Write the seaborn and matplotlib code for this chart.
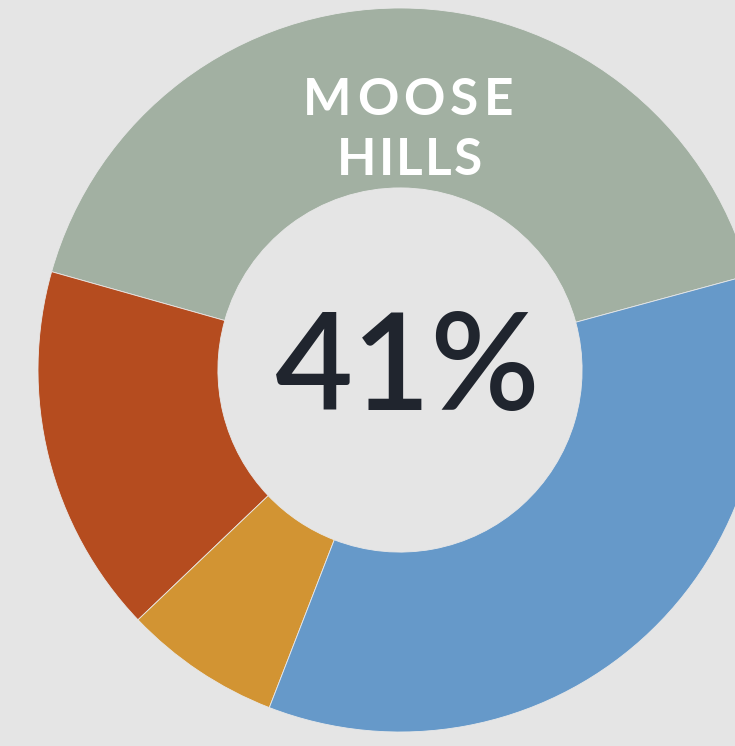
import matplotlib
matplotlib.use("Agg")
import matplotlib.pyplot as plt
from matplotlib.transforms import IdentityTransform
import seaborn as sns

# data
regions = ["Moose Hills", "Region B", "Region C", "Region D"]
shares = [41.4, 16.5, 7, 35.1]
colors = ["#a2b0a2", "#b54c1f", "#d29433", "#6699c9"]
label = "MOOSE HILLS"
center_text = "41%"

bg = "#e5e5e5"
sns.set_theme(style="white", rc={"figure.facecolor": bg, "axes.facecolor": bg})
plt.rcParams["font.family"] = ["Lato", "DejaVu Sans"]

W, H = 735, 746
fig = plt.figure(figsize=(W / 100, H / 100), dpi=100)
# axes holds the donut: center (400, 370) px, radius 362 px
ax = fig.add_axes([38 / W, 14 / H, 724 / W, 724 / H])
ax.pie(shares, colors=sns.color_palette(colors), startangle=15.2, counterclock=True,
       radius=1, wedgeprops=dict(width=0.497, edgecolor="#e8e8e8", linewidth=0.6))
ax.set_xlim(-1, 1)
ax.set_ylim(-1, 1)
ax.set_aspect("equal")
ax.axis("off")

renderer = fig.canvas.get_renderer()


def spaced_text(s, x0, x1, y_base, size):
    # draw letters one by one so they spread from x0 to x1 (image px)
    parts = []
    for ch in s:
        t = fig.text(0, 0, ch, fontsize=size, fontweight="bold", color="white",
                     ha="left", va="baseline", transform=IdentityTransform())
        w = t.get_window_extent(renderer).width
        parts.append((t, w))
    gap = (x1 - x0 - sum(w for _, w in parts)) / (len(parts) - 1)
    x = x0
    for t, w in parts:
        t.set_position((x, H - y_base))
        x += w + gap


line1, line2 = label.split(" ")
spaced_text(line1, 303, 513, 115, 37)
spaced_text(line2, 337, 482, 175, 37)

fig.text(408 / W, 1 - 410 / H, center_text, fontsize=97, fontweight="semibold",
         color="#20252e", ha="center", va="baseline")

fig.savefig("out.png", dpi=100, facecolor=bg)
